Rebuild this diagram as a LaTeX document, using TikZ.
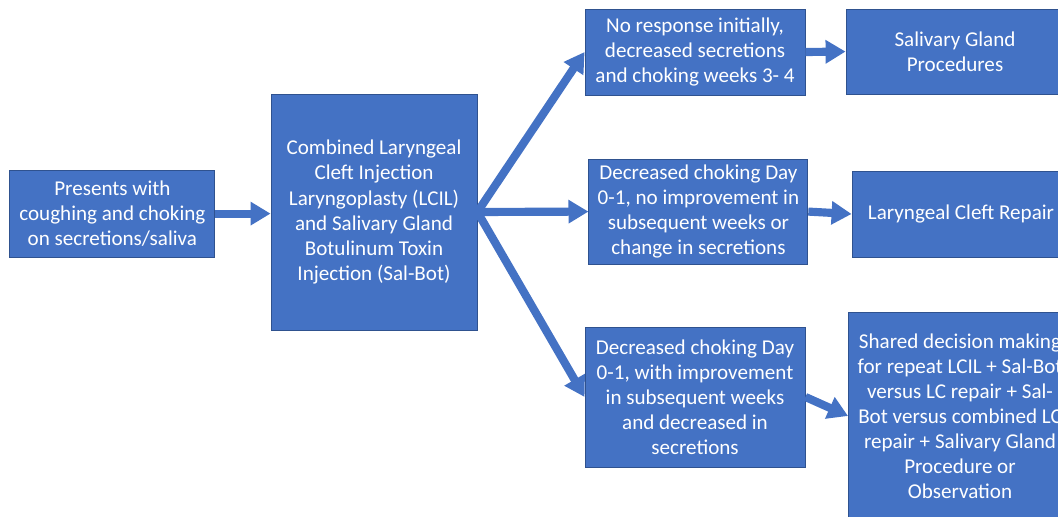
\documentclass[tikz,border=0pt]{standalone}
\usepackage{fontspec}
\setmainfont{Carlito}
\usetikzlibrary{arrows.meta}
\definecolor{boxBlue}{HTML}{4472C4}
\definecolor{boxEdge}{HTML}{2F528F}
\tikzset{
    flowBox/.style={
		draw=boxEdge, line width=0.6pt, fill=boxBlue, text=white,
		align=center, inner sep=0pt,
		font=\fontsize{15}{17.8}\selectfont
	}
}
\tikzset{
    flowArrow/.style={
		draw=boxBlue, line width=5.8pt,
		-{Triangle[length=0.5cm,width=0.56cm]}
	}
}
\begin{document}
\begin{tikzpicture}
			\clip (0,0) rectangle (26.45,12.9);
			% first step
			\node[flowBox, minimum width=5.125cm, minimum height=2.175cm] (presents) at (2.81,7.56) {Presents with\\coughing and choking\\on secretions/saliva};
			\node[flowBox, minimum width=5.15cm, minimum height=5.9cm] (combined) at (9.35,7.6) {Combined Laryngeal\\Cleft Injection\\Laryngoplasty (LCIL)\\and Salivary Gland\\Botulinum Toxin\\Injection (Sal-Bot)};
			% responses
			\node[flowBox, minimum width=5.5cm, minimum height=2.15cm] (noResponse) at (17.375,11.6) {No response initially,\\decreased secretions\\and choking weeks 3- 4};
			\node[flowBox, minimum width=5.475cm, minimum height=2.625cm] (noImprovement) at (17.46,7.61) {Decreased choking Day\\0-1, no improvement in\\subsequent weeks or\\change in secretions};
			\node[flowBox, minimum width=5.5cm, minimum height=3.5cm] (withImprovement) at (17.375,2.975) {Decreased choking Day\\0-1, with improvement\\in subsequent weeks\\and decreased in\\secretions};
			% outcomes
			\node[flowBox, minimum width=5.45cm, minimum height=2.125cm] (glandProc) at (23.875,11.61) {Salivary Gland\\Procedures};
			\node[flowBox, minimum width=5.45cm, minimum height=2.15cm] (cleftRepair) at (24.025,7.55) {Laryngeal Cleft Repair};
			\node[flowBox, minimum width=5.575cm, minimum height=5.2cm] (sharedDecision) at (24.0,2.5) {Shared decision making\\for repeat LCIL + Sal-Bot\\versus LC repair + Sal-\\Bot versus combined LC\\repair + Salivary Gland\\Procedure or\\Observation};
			% arrows
			\draw[flowArrow] (presents.east) -- (combined.west |- presents.east);
			\draw[flowArrow] (combined.east) -- (noResponse.west);
			\draw[flowArrow] (combined.east) -- (noImprovement.west);
			\draw[flowArrow] (combined.east) -- (withImprovement.west);
			\draw[flowArrow] (noResponse.east) -- (glandProc.west);
			\draw[flowArrow] (noImprovement.east) -- (cleftRepair.west);
			\draw[flowArrow] (withImprovement.east) -- (sharedDecision.west);
		\end{tikzpicture}
\end{document}
